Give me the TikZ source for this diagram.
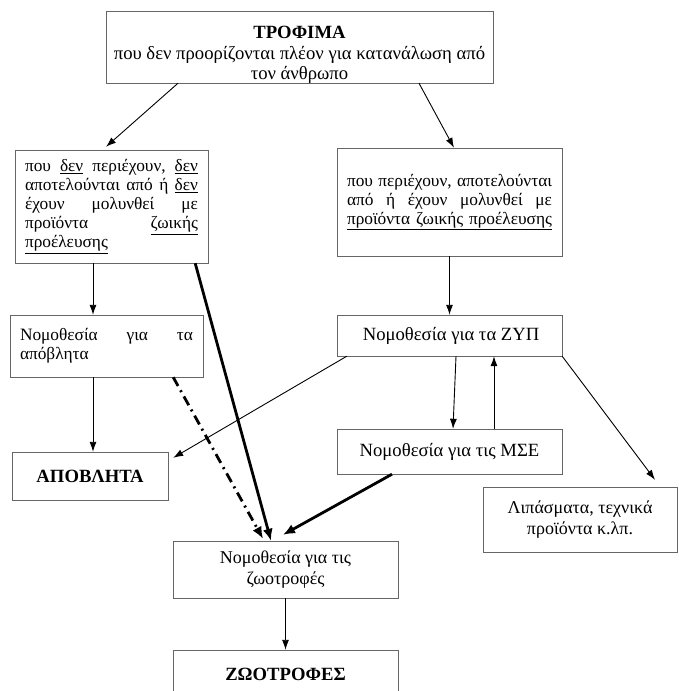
\documentclass[tikz,border=0pt]{standalone}
\usepackage{fontspec}
\setmainfont{Liberation Serif}
\usetikzlibrary{arrows.meta}

\begin{document}
\begin{tikzpicture}[x=1pt, y=-1pt,
        box/.style={draw=black!60, inner sep=0pt, font=\fontsize{17.33}{19}\selectfont},
        big/.style={font=\fontsize{18.67}{19.5}\selectfont},
        mid/.style={font=\fontsize{18}{21}\selectfont},
        arr/.style={-{Latex[length=10pt,width=7pt]}, line width=0.9pt},
        heavy/.style={-{Latex[length=12pt,width=10pt]}, line width=2.8pt}]
        \useasboundingbox (0,0) rectangle (678,691);
        \clip (0,0) rectangle (678,691);

        \node[box, big, minimum width=387pt, minimum height=72pt, align=center] (trofima) at (299.5,47)
            {\rule{0pt}{27pt}\textbf{ΤΡΟΦΙΜΑ}\\[2pt] που δεν προορίζονται πλέον για κατανάλωση από\\ τον άνθρωπο};

        \node[box, minimum width=193pt, minimum height=113pt, text width=173pt, align=left] (xoris) at (111.5,206.5) {
            \makebox[173pt][s]{που\hfill \underline{δεν}\hfill περιέχουν,\hfill \underline{δεν}}\\
            \makebox[173pt][s]{αποτελούνται\hfill από\hfill ή\hfill \underline{δεν}}\\
            \makebox[173pt][s]{έχουν\hfill μολυνθεί\hfill με}\\
            \makebox[173pt][s]{προϊόντα\hfill \underline{ζωικής}}\\
            \underline{προέλευσης}};
        \node[box, minimum width=225pt, minimum height=108pt, text width=205pt, align=left] (zoiki) at (449.5,202) {
            \makebox[205pt][s]{που\hfill περιέχουν,\hfill αποτελούνται}\\
            \makebox[205pt][s]{από\hfill ή\hfill έχουν\hfill μολυνθεί\hfill με}\\
            \underline{προϊόντα ζωικής προέλευσης}\\[6pt]};

        \node[box, minimum width=193pt, minimum height=62pt, text width=173pt, align=left] (nomapov) at (106.5,346) {
            \makebox[173pt][s]{Νομοθεσία\hfill για\hfill τα}\\ απόβλητα};
        \node[box, big, minimum width=225pt, minimum height=41pt] (nomzyp) at (449.5,335.5) {\,Νομοθεσία για τα ΖΥΠ};
        \node[box, big, minimum width=225pt, minimum height=45pt] (nommse) at (449.5,451.5) {Νομοθεσία για τις ΜΣΕ};

        \node[box, big, minimum width=156pt, minimum height=48pt] (apovlita) at (90,476) {\textbf{ΑΠΟΒΛΗΤΑ}};
        \node[box, mid, minimum width=194pt, minimum height=65pt, align=center] (lipasmata) at (580,519.5)
            {Λιπάσματα, τεχνικά\\ προϊόντα κ.λπ.};
        \node[box, mid, minimum width=225pt, minimum height=57pt, align=center] (nomzootr) at (285.5,569.5)
            {Νομοθεσία για τις\\ ζωοτροφές};
        \node[box, big, minimum width=225pt, minimum height=48pt] (zootr) at (285.5,674) {\textbf{ΖΩΟΤΡΟΦΕΣ}};

        \draw[arr] ([xshift=-121.5pt]trofima.south) -- ([xshift=-5.5pt,yshift=3pt]xoris.north);
        \draw[arr] ([xshift=119.5pt]trofima.south) -- ([xshift=4.5pt]zoiki.north);
        \draw[arr] ([xshift=-18.5pt]xoris.south) -- ([xshift=-18.5pt]xoris.south |- nomapov.north);
        \draw[arr] (zoiki.south) -- (nomzyp.north);
        \draw[arr] ([xshift=-13.5pt]nomapov.south) -- ([xshift=-13.5pt]nomapov.south |- apovlita.north);
        \draw[arr] ([xshift=10pt]nomzyp.south west) -- ([xshift=5pt,yshift=-6pt]apovlita.north east);
        \draw[arr] ([xshift=6.5pt]nomzyp.south) -- ([xshift=3.5pt]nommse.north);
        \draw[arr] ([xshift=44.5pt]nommse.north) -- ([xshift=44.5pt]nommse.north |- nomzyp.south);
        \draw[arr] (nomzyp.south east) -- ([xshift=75pt,yshift=7pt]lipasmata.north);
        \draw[heavy] ([xshift=-13pt]xoris.south east) -- ([xshift=-14.5pt]nomzootr.north);
        \draw[heavy, dash pattern=on 10pt off 5pt on 2pt off 5pt] ([xshift=-30pt]nomapov.south east) -- ([xshift=-22.5pt,yshift=2pt]nomzootr.north);
        \draw[heavy] ([xshift=-57.5pt]nommse.south) -- ([xshift=-2.5pt,yshift=6pt]nomzootr.north);
        \draw[arr] (nomzootr.south) -- (zootr.north);
\end{tikzpicture}
\end{document}
